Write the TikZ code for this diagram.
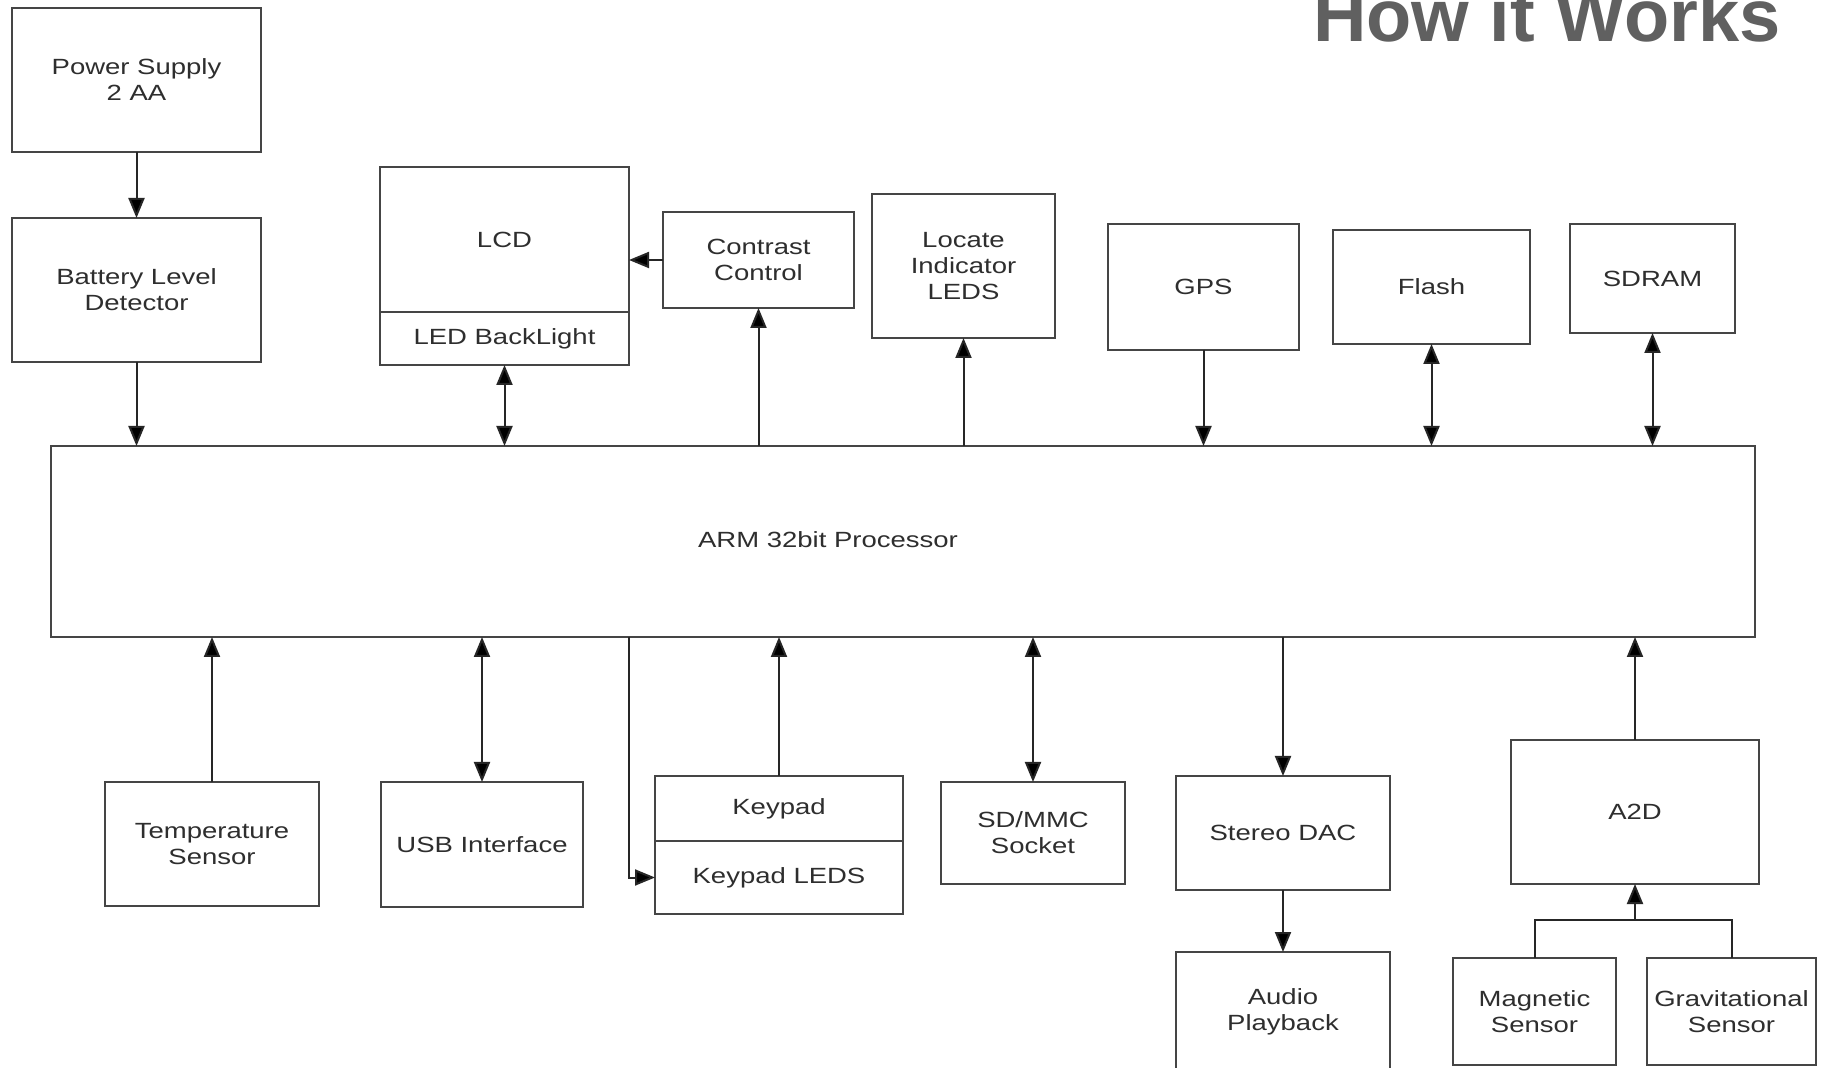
\documentclass[tikz,border=0pt]{standalone}
\usepackage{fontspec}
\setmainfont{Liberation Sans}
\newfontfamily\diagfont[FakeStretch=1.25]{Liberation Sans}
\usetikzlibrary{arrows.meta}
\definecolor{boxline}{HTML}{454545}
\definecolor{txt}{HTML}{2E2E2E}
\definecolor{ttl}{HTML}{606060}
\definecolor{wire}{HTML}{262626}
\newcommand\mkbox[6]{\node[blk, minimum width={(#4-#2)*0.5pt}, minimum height={(#5-#3)*0.5pt}] (#1) at ({(#2+#4)/2},{(#3+#5)/2}) {#6};}
\tikzset{
  blk/.style={draw=boxline, line width=1.25pt, fill=white, text=txt,
    font=\diagfont\fontsize{11pt}{13pt}\selectfont, align=center,
    inner sep=0pt, outer sep=0pt, rectangle},
  lbl/.style={text=txt, font=\diagfont\fontsize{11pt}{13pt}\selectfont, align=center, inner sep=0pt},
  wireline/.style={draw=wire, line width=1pt},
  tip/.style={},
  arr/.style={wireline, -{Triangle[length=10pt,width=8pt,fill=black]}},
  darr/.style={wireline, {Triangle[length=10pt,width=8pt,fill=black]}-{Triangle[length=10pt,width=8pt,fill=black]}},
}
\begin{document}
\begin{tikzpicture}[x=0.5pt,y=-0.5pt]
\clip (0,0) rectangle (1826,1068);
\fill[white] (0,0) rectangle (1826,1068);
% title
\node[anchor=base east, inner sep=0pt, text=ttl, font=\fontsize{37pt}{40pt}\selectfont\bfseries] (title) at (1781,42) {How it Works};
% top boxes
\mkbox{ps}{12}{8}{261}{152}{Power Supply\\2 AA}
\mkbox{bld}{12}{218}{261}{362}{Battery Level\\Detector}
\mkbox{lcd}{380}{167}{629}{312}{LCD}
\mkbox{led}{380}{312}{629}{365}{LED BackLight}
\mkbox{cc}{663}{212}{854}{308}{Contrast\\Control}
\mkbox{lil}{872}{194}{1055}{338}{Locate\\Indicator\\LEDS}
\mkbox{gps}{1108}{224}{1299}{350}{GPS}
\mkbox{flash}{1333}{230}{1530}{344}{Flash}
\mkbox{sdram}{1570}{224}{1735}{333}{SDRAM}
% processor
\mkbox{proc}{51}{446}{1755}{637}{}
\node[lbl] (proctext) at (828,540) {ARM 32bit Processor};
% bottom boxes
\mkbox{ts}{105}{782}{319}{906}{Temperature\\Sensor}
\mkbox{usb}{381}{782}{583}{907}{USB Interface}
\mkbox{kp}{655}{776}{903}{841}{Keypad}
\mkbox{kled}{655}{841}{903}{914}{Keypad LEDS}
\mkbox{sd}{941}{782}{1125}{884}{SD/MMC\\Socket}
\mkbox{dac}{1176}{776}{1390}{890}{Stereo DAC}
\mkbox{audio}{1176}{952}{1390}{1072}{Audio\\Playback}
\mkbox{a2d}{1511}{740}{1759}{884}{A2D}
\mkbox{mag}{1453}{958}{1616}{1065}{Magnetic\\Sensor}
\mkbox{grav}{1647}{958}{1816}{1065}{Gravitational\\Sensor}
% connectors top
\draw[arr] (ps.south) -- (bld.north);
\draw[arr] (bld.south) -- (bld.south |- proc.north);
\draw[darr] (led.south) -- (led.south |- proc.north);
\draw[arr] (cc.west) -- (cc.west -| lcd.east);
\draw[arr] (cc.south |- proc.north) -- (cc.south);
\draw[arr] (lil.south |- proc.north) -- (lil.south);
\draw[arr] (gps.south) -- (gps.south |- proc.north);
\draw[darr] (flash.south) -- (flash.south |- proc.north);
\draw[darr] (sdram.south) -- (sdram.south |- proc.north);
% connectors bottom
\draw[arr] (ts.north) -- (ts.north |- proc.south);
\draw[darr] (usb.north) -- (usb.north |- proc.south);
\coordinate (kbranch) at (629,637);
\draw[arr] (kbranch) |- (kled.west);
\draw[arr] (kp.north) -- (kp.north |- proc.south);
\draw[darr] (sd.north) -- (sd.north |- proc.south);
\draw[arr] (dac.north |- proc.south) -- (dac.north);
\draw[arr] (dac.south) -- (audio.north);
\draw[arr] (a2d.north) -- (a2d.north |- proc.south);
\coordinate (sj) at (1635,920);
\draw[wireline] (mag.north) |- (sj) -| (grav.north);
\draw[arr] (sj) -- (a2d.south);
\end{tikzpicture}
\end{document}
